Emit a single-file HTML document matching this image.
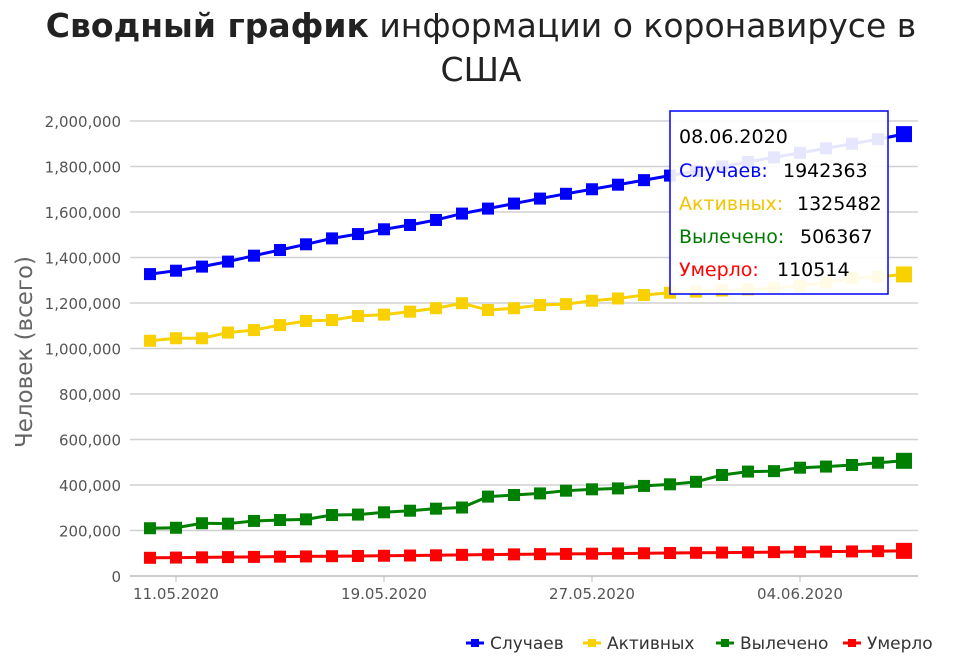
<!DOCTYPE html>
<html><head><meta charset="utf-8">
<style>
body{margin:0;background:#fff;width:963px;height:656px;overflow:hidden;font-family:"Liberation Sans","DejaVu Sans",sans-serif;}
svg text{font-family:"DejaVu Sans","Liberation Sans",sans-serif;}
</style></head>
<body>
<svg id="chart" width="963" height="656" xmlns="http://www.w3.org/2000/svg">
<text x="481" y="37" text-anchor="middle" font-size="33" fill="#222"><tspan font-weight="bold">Сводный график</tspan> информации о коронавирусе в</text>
<text x="481" y="81" text-anchor="middle" font-size="33" fill="#222">США</text>
<text transform="translate(32,352) rotate(-90)" text-anchor="middle" font-size="23" fill="#666">Человек (всего)</text>
<g id="grid"></g><g id="series"></g>
<g id="tooltip">
<rect x="670" y="111" width="218" height="183" fill="#fff" fill-opacity="0.9" stroke="#0000ff" stroke-width="1.5"/>
<text x="679" y="143" font-size="19" fill="#000">08.06.2020</text>
<text x="679" y="177" font-size="19" fill="#0000ff">Случаев: <tspan x="783" fill="#000">1942363</tspan></text>
<text x="679" y="210" font-size="19" fill="#f5c400">Активных: <tspan x="797" fill="#000">1325482</tspan></text>
<text x="679" y="243" font-size="19" fill="#007a00">Вылечено: <tspan x="800" fill="#000">506367</tspan></text>
<text x="679" y="276" font-size="19" fill="#ff0000">Умерло: <tspan x="777" fill="#000">110514</tspan></text>
</g>
<g id="legend"></g>
</svg>
<script>
const categories=["10.05.2020","11.05.2020","12.05.2020","13.05.2020","14.05.2020","15.05.2020","16.05.2020","17.05.2020","18.05.2020","19.05.2020","20.05.2020","21.05.2020","22.05.2020","23.05.2020","24.05.2020","25.05.2020","26.05.2020","27.05.2020","28.05.2020","29.05.2020","30.05.2020","31.05.2020","01.06.2020","02.06.2020","03.06.2020","04.06.2020","05.06.2020","06.06.2020","07.06.2020","08.06.2020"];
const cases=[1327000,1342000,1360000,1382000,1408000,1433000,1458000,1484000,1503000,1524000,1543000,1565000,1593000,1615000,1637000,1659000,1680000,1700000,1720000,1740000,1760000,1780000,1800000,1820000,1840000,1860000,1880000,1900000,1920000,1942363];
const active=[1034000,1045000,1045000,1070000,1081000,1103000,1121000,1125000,1143000,1149000,1162000,1177000,1199000,1169000,1177000,1191000,1195000,1210000,1220000,1235000,1245000,1250000,1255000,1260000,1265000,1275000,1290000,1310000,1315000,1325482];
const recovered=[210000,212000,232000,230000,242000,246000,249000,268000,270000,280000,287000,296000,301000,349000,356000,363000,375000,381000,385000,396000,403000,414000,444000,459000,461000,476000,481000,488000,498000,506367];
const deaths=[80000,81000,82000,83000,84000,85000,86000,87000,88000,89000,90000,91000,93000,94000,95000,96000,97000,98000,99000,100000,101000,102000,103000,104000,105000,106000,107000,108000,109000,110514];
const yTicks=[0,200000,400000,600000,800000,1000000,1200000,1400000,1600000,1800000,2000000];
const xTickLabels=["11.05.2020","19.05.2020","27.05.2020","04.06.2020"];
const seriesNames=["Случаев","Активных","Вылечено","Умерло"];
const NS="http://www.w3.org/2000/svg";
const x0=150,dx=26,yb=576,yt=121,ymax=2000000;
const xs=i=>x0+i*dx;
const ys=v=>yb-(v/ymax)*(yb-yt);
function mk(t,a,p){const e=document.createElementNS(NS,t);for(const k in a)e.setAttribute(k,a[k]);p.appendChild(e);return e;}
const grid=document.getElementById('grid');
yTicks.forEach(v=>{
 const l=mk('line',{x1:130,x2:918,y1:ys(v),y2:ys(v),stroke:v===0?'#bbb':'#d0d0d0','stroke-width':1.5},grid);
 
 
 const t=mk('text',{x:121,y:ys(v)+6,'text-anchor':'end','font-size':15,fill:'#555'},grid);
 t.textContent=v.toLocaleString('en-US');
 
 
});
xTickLabels.forEach(lab=>{
 const i=categories.indexOf(lab);
 mk('line',{x1:xs(i),x2:xs(i),y1:yb,y2:yb+6,stroke:'#bbb'},grid);
 const t=mk('text',{x:xs(i),y:599,'text-anchor':'middle','font-size':15,fill:'#555'},grid);
 t.textContent=lab;
 
 
});
const colors=['#0000ff','#f9d000','#008000','#ff0000'];
const data=[cases,active,recovered,deaths];
const sg=document.getElementById('series');
data.forEach((arr,s)=>{
 const g=mk('g',{},sg);
 
 
 const p=mk('polyline',{points:arr.map((v,i)=>xs(i)+','+ys(v)).join(' '),fill:'none',stroke:colors[s],'stroke-width':3},g);
 
 
 arr.forEach((v,i)=>{
  const last=i===arr.length-1, sz=last?16:12;
  const r=mk('rect',{x:xs(i)-sz/2,y:ys(v)-sz/2,width:sz,height:sz,fill:colors[s]},g);
  
  
 });
});
const lg=document.getElementById('legend');
const lx=[466,583,716,843];
seriesNames.forEach((n,s)=>{
 const g=mk('g',{},lg);
 
 
 mk('line',{x1:lx[s],x2:lx[s]+18,y1:643,y2:643,stroke:colors[s],'stroke-width':3},g);
 mk('rect',{x:lx[s]+5,y:639,width:8,height:8,fill:colors[s]},g);
 const t=mk('text',{x:lx[s]+24,y:649,'font-size':17,fill:'#333'},g);
 t.textContent=n;
});
</script>
</body></html>
